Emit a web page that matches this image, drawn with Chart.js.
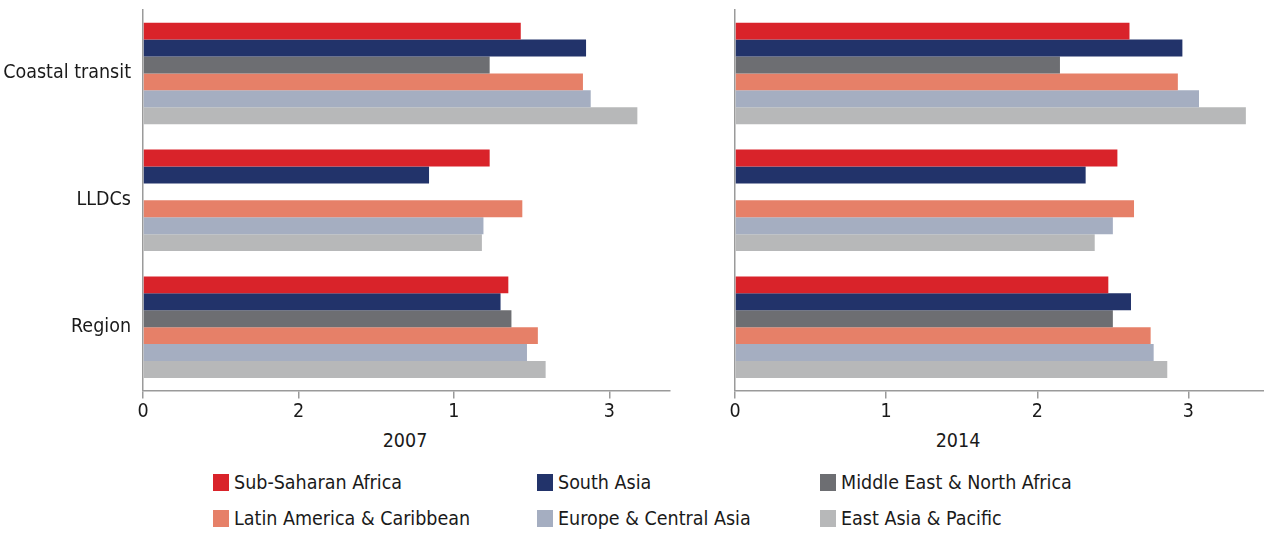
<!DOCTYPE html>
<html>
<head>
<meta charset="utf-8">
<script src="https://cdn.jsdelivr.net/npm/chart.js@4.4.1/dist/chart.umd.min.js"></script>
<style>
  body { margin: 0; background: #fff; width: 1264px; height: 534px; position: relative; overflow: hidden;
         font-family: "DejaVu Sans Condensed", "Liberation Sans Narrow", sans-serif; color: #1a1a1a; }
  .wrap { position: absolute; top: 0; height: 426px; }
  #leftWrap { left: 0; width: 680px; }
  #rightWrap { left: 680px; width: 584px; }
  .year { position: absolute; top: 429px; font-size: 19.5px; transform: translateX(-50%); }
  #legend { position: absolute; left: 0; top: 0; }
  .item { position: absolute; font-size: 19.5px; line-height: 24px; white-space: nowrap; }
  .item span { display: inline-block; width: 16px; height: 17px; margin-right: 5px; vertical-align: -2px; }
</style>
</head>
<body>
<div class="wrap" id="leftWrap"><canvas id="c2007"></canvas></div>
<div class="wrap" id="rightWrap"><canvas id="c2014"></canvas></div>
<div class="year" style="left:405px">2007</div>
<div class="year" style="left:958px">2014</div>
<div id="legend"></div>
<script>
const categories = ['Coastal transit', 'LLDCs', 'Region'];
const seriesNames = ['Sub-Saharan Africa', 'South Asia', 'Middle East & North Africa',
                     'Latin America & Caribbean', 'Europe & Central Asia', 'East Asia & Pacific'];
const seriesColors = ['#d9232a', '#22336a', '#6d6e72', '#e68068', '#a5aec1', '#b7b8b9'];

// values per series: [Coastal transit, LLDCs, Region]
const ssa2007 = [2.43, 2.23, 2.35];
const sas2007 = [2.85, 1.84, 2.30];
const mena2007 = [2.23, null, 2.37];
const lac2007 = [2.83, 2.44, 2.54];
const eca2007 = [2.88, 2.19, 2.47];
const eap2007 = [3.18, 2.18, 2.59];

const ssa2014 = [2.61, 2.53, 2.47];
const sas2014 = [2.96, 2.32, 2.62];
const mena2014 = [2.15, null, 2.50];
const lac2014 = [2.93, 2.64, 2.75];
const eca2014 = [3.07, 2.50, 2.77];
const eap2014 = [3.38, 2.38, 2.86];

const tickLabels2007 = ['0', '2', '1', '3'];
const tickLabels2014 = ['0', '1', '2', '3'];

const FONT = '"DejaVu Sans Condensed", "Liberation Sans Narrow", sans-serif';
const AXIS = '#9a9a9a';

function makeChart(id, series, tickLabels, xMax, showLabels, yWidth, padRight) {
    const ctx = document.getElementById(id).getContext('2d');
    return new Chart(ctx, {
        type: 'bar',
        data: {
            labels: categories,
            datasets: series.map((d, i) => ({
                label: seriesNames[i],
                data: d,
                backgroundColor: seriesColors[i],
                borderWidth: 0,
                categoryPercentage: 0.8,
                barPercentage: 1.0
            }))
        },
        options: {
            indexAxis: 'y',
            responsive: true,
            maintainAspectRatio: false,
            animation: false,
            layout: { padding: { top: 10, right: padRight, left: 0, bottom: 0 } },
            plugins: { legend: { display: false }, tooltip: { enabled: false } },
            scales: {
                x: {
                    min: 0,
                    max: xMax,
                    grid: { display: true, drawOnChartArea: false, drawTicks: true, tickLength: 8, color: AXIS, lineWidth: 1.5 },
                    border: { display: true, color: AXIS, width: 1.5 },
                    ticks: {
                        stepSize: 1,
                        includeBounds: false,
                        padding: 2,
                        color: '#1a1a1a',
                        font: { family: FONT, size: 19.5 },
                        callback: (v) => tickLabels[v]
                    }
                },
                y: {
                    grid: { display: false, drawTicks: false },
                    border: { display: true, color: AXIS, width: 1.5 },
                    ticks: {
                        display: showLabels,
                        padding: 12,
                        color: '#1a1a1a',
                        font: { family: FONT, size: 19.5 }
                    },
                    afterFit: (scale) => {
                        scale.width = yWidth;
                        scale.paddingTop = 0;
                        scale.paddingBottom = 0;
                    }
                }
            }
        }
    });
}

makeChart('c2007', [ssa2007, sas2007, mena2007, lac2007, eca2007, eap2007], tickLabels2007, 3.39, true, 143, 10);
makeChart('c2014', [ssa2014, sas2014, mena2014, lac2014, eca2014, eap2014], tickLabels2014, 3.5, false, 55, 0);

// legend, three columns by two rows
const legendX = [213, 537, 820];
const legendY = [471, 507];
const legend = document.getElementById('legend');
seriesNames.forEach((name, i) => {
    const el = document.createElement('div');
    el.className = 'item';
    el.style.left = legendX[i % 3] + 'px';
    el.style.top = legendY[Math.floor(i / 3)] + 'px';
    el.innerHTML = '<span style="background:' + seriesColors[i] + '"></span>' + name;
    legend.appendChild(el);
});
</script>
</body>
</html>
